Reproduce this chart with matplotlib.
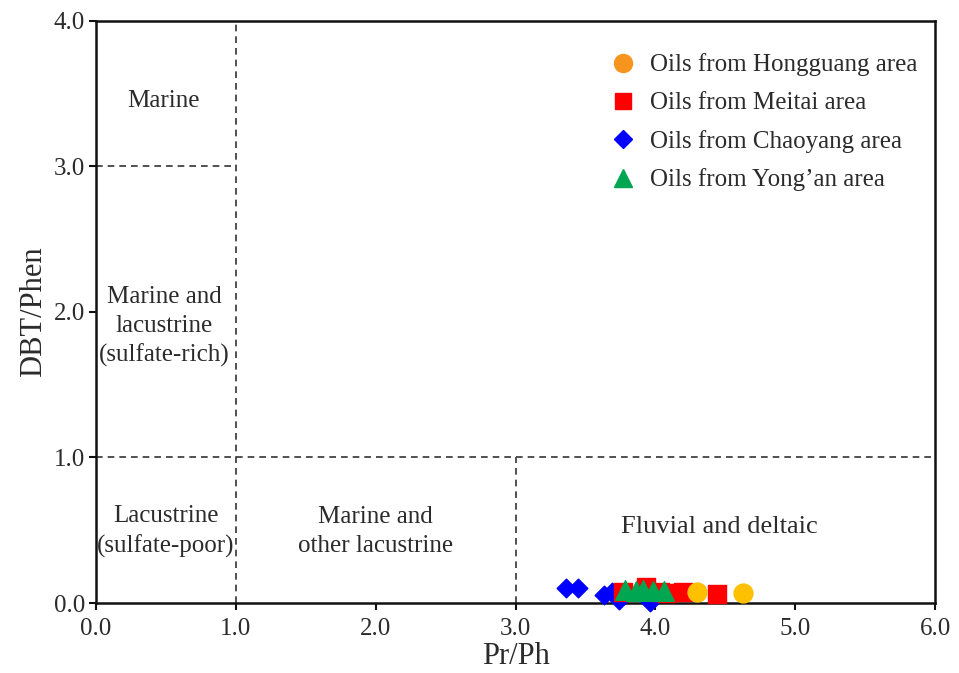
import matplotlib.pyplot as plt
from matplotlib.lines import Line2D
from matplotlib.ticker import FormatStrFormatter, MultipleLocator

plt.rcParams['font.family'] = ['Liberation Serif', 'DejaVu Serif']

# Pr/Ph vs DBT/Phen for each oil group
hong_x = [4.30, 4.63]
hong_y = [0.075, 0.07]
meitai_x = [3.77, 3.93, 4.03, 4.08, 4.20, 4.44]
meitai_y = [0.075, 0.11, 0.075, 0.07, 0.075, 0.06]
chao_x = [3.36, 3.45, 3.63, 3.69, 3.74, 3.96]
chao_y = [0.10, 0.10, 0.055, 0.075, 0.02, 0.01]
yong_x = [3.78, 3.86, 3.91, 3.98, 4.06]
yong_y = [0.09, 0.08, 0.09, 0.08, 0.08]

legend_labels = ['Oils from Hongguang area', 'Oils from Meitai area',
                 'Oils from Chaoyang area', "Oils from Yong\u2019an area"]

txt = '#2b2b2b'

fig = plt.figure(figsize=(9.59, 6.73), dpi=100)
ax = fig.add_axes([0.1001, 0.104, 0.8749, 0.865])

ax.set_xlim(0, 6)
ax.set_ylim(0, 4)

dash = dict(color='#333333', linestyle=(0, (4, 3)), linewidth=1.2)
ax.plot([1, 1], [0, 4], **dash)
ax.plot([0, 1], [3, 3], **dash)
ax.plot([0, 6], [1, 1], **dash)
ax.plot([3, 3], [0, 1], **dash)

ax.scatter(chao_x, chao_y, marker='D', s=90, color='#0000FF', zorder=3, clip_on=False)
ax.scatter(meitai_x, meitai_y, marker='s', s=160, color='#FF0000', zorder=4, clip_on=False)
ax.scatter(hong_x, hong_y, marker='o', s=185, color='#FFC000', zorder=5, clip_on=False)
ax.scatter(yong_x, yong_y, marker='^', s=200, color='#00A651', zorder=6, clip_on=False)

tfs = 18
ls = 1.4
ax.text(0.48, 3.45, 'Marine', ha='center', va='center', fontsize=tfs, color=txt)
ax.text(0.49, 1.9, 'Marine and\nlacustrine\n(sulfate-rich)', ha='center', va='center',
        fontsize=tfs, linespacing=ls, color=txt)
ax.text(0.5, 0.49, 'Lacustrine\n(sulfate-poor)', ha='center', va='center', fontsize=tfs,
        linespacing=ls, color=txt)
ax.text(2.0, 0.49, 'Marine and\nother lacustrine', ha='center', va='center', fontsize=tfs,
        linespacing=ls, color=txt)
ax.text(4.46, 0.52, 'Fluvial and deltaic', ha='center', va='center', fontsize=tfs + 1,
        color=txt)

handles = [
    Line2D([], [], marker='o', linestyle='none', markersize=13, color='#F7941D'),
    Line2D([], [], marker='s', linestyle='none', markersize=12, color='#FF0000'),
    Line2D([], [], marker='D', linestyle='none', markersize=9.5, color='#0000FF'),
    Line2D([], [], marker='^', linestyle='none', markersize=13, color='#00A651'),
]
leg = ax.legend(handles, legend_labels, loc='upper right', frameon=False, fontsize=18,
                handletextpad=0.55, labelspacing=0.62, borderaxespad=0.25,
                handlelength=1.0, bbox_to_anchor=(0.998, 0.972))
for t in leg.get_texts():
    t.set_color(txt)

ax.xaxis.set_major_locator(MultipleLocator(1))
ax.yaxis.set_major_locator(MultipleLocator(1))
ax.xaxis.set_major_formatter(FormatStrFormatter('%.1f'))
ax.yaxis.set_major_formatter(FormatStrFormatter('%.1f'))
ax.tick_params(direction='out', length=5, width=1.5, labelsize=18, colors='#111111',
               labelcolor=txt, pad=3)
ax.tick_params(axis='x', pad=6)
for sp in ax.spines.values():
    sp.set_linewidth(1.8)
    sp.set_color('#111111')

ax.set_xlabel('Pr/Ph', fontsize=22, labelpad=1, color=txt)
ax.set_ylabel('DBT/Phen', fontsize=22, labelpad=4, color=txt)

fig.savefig('out.png', dpi=100)
